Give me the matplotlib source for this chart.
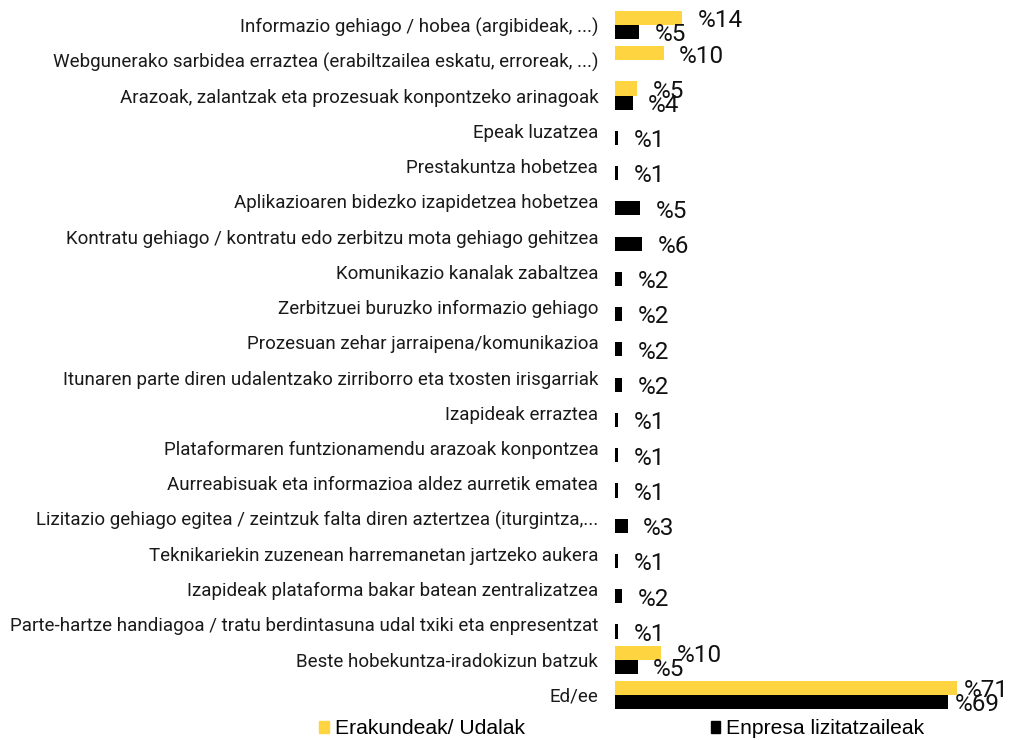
import matplotlib
matplotlib.use('Agg')
import matplotlib.pyplot as plt
from matplotlib.patches import Patch
import numpy as np

categories = [
    'Informazio gehiago / hobea (argibideak, ...)',
    'Webgunerako sarbidea erraztea (erabiltzailea eskatu, erroreak, ...)',
    'Arazoak, zalantzak eta prozesuak konpontzeko arinagoak',
    'Epeak luzatzea',
    'Prestakuntza hobetzea',
    'Aplikazioaren bidezko izapidetzea hobetzea',
    'Kontratu gehiago / kontratu edo zerbitzu mota gehiago gehitzea',
    'Komunikazio kanalak zabaltzea',
    'Zerbitzuei buruzko informazio gehiago',
    'Prozesuan zehar jarraipena/komunikazioa',
    'Itunaren parte diren udalentzako zirriborro eta txosten irisgarriak',
    'Izapideak erraztea',
    'Plataformaren funtzionamendu arazoak konpontzea',
    'Aurreabisuak eta informazioa aldez aurretik ematea',
    'Lizitazio gehiago egitea / zeintzuk falta diren aztertzea (iturgintza,...',
    'Teknikariekin zuzenean harremanetan jartzeko aukera',
    'Izapideak plataforma bakar batean zentralizatzea',
    'Parte-hartze handiagoa / tratu berdintasuna udal txiki eta enpresentzat',
    'Beste hobekuntza-iradokizun batzuk',
    'Ed/ee',
]

# bar lengths (labels are rounded)
erakundeak = [13.9, 10.1, 4.6, 0, 0, 0, 0, 0, 0, 0, 0, 0, 0, 0, 0, 0, 0, 0, 9.6, 71.0]
enpresak = [5.0, 0, 3.7, 0.7, 0.7, 5.2, 5.7, 1.5, 1.5, 1.5, 1.5, 0.7, 0.7, 0.7, 2.6, 0.7, 1.5, 0.7, 4.7, 69.0]

series_names = ['Erakundeak/ Udalak', 'Enpresa lizitatzaileak']
YELLOW = '#FED541'
BLACK = '#000000'

fig = plt.figure(figsize=(10.16, 7.4), dpi=100)
ax = fig.add_axes([615 / 1016, 1 - 712.6 / 740, 385.6 / 1016, (712.6 - 7.4) / 740])

y = np.arange(len(categories))
h = 0.4
ax.barh(y - h / 2, erakundeak, height=h, color=YELLOW)
ax.barh(y + h / 2, enpresak, height=h, color=BLACK)

for vals, off in ((erakundeak, -h / 2), (enpresak, h / 2)):
    for i, v in enumerate(vals):
        if v <= 0:
            continue
        dx = 5 if v > 60 else 11
        ax.annotate('%' + str(int(v + 0.5)), (v, i + off + 0.08), xytext=(dx, 0),
                    textcoords='offset points', va='center', ha='left',
                    fontsize=17.5, family='Roboto', color='#111111',
                    annotation_clip=False)

ax.set_xlim(0, 80)
ax.set_ylim(len(categories) - 0.5, -0.5)
ax.set_yticks(y)
ax.set_yticklabels(categories, family='Roboto', fontsize=13.5, color='#1a1a1a')
ax.tick_params(axis='y', length=0, pad=12)
ax.set_xticks([])
for s in ax.spines.values():
    s.set_visible(False)

handles = [Patch(color=YELLOW), Patch(color=BLACK)]
fig.legend(handles, series_names, loc='center', bbox_to_anchor=(0.612, 0.015),
           ncol=2, frameon=False, handlelength=0.45, handleheight=0.45,
           handletextpad=0.3, columnspacing=8.8,
           prop={'family': 'Liberation Sans', 'size': 15.2})

plt.savefig('out.png', dpi=100)
plt.close()
